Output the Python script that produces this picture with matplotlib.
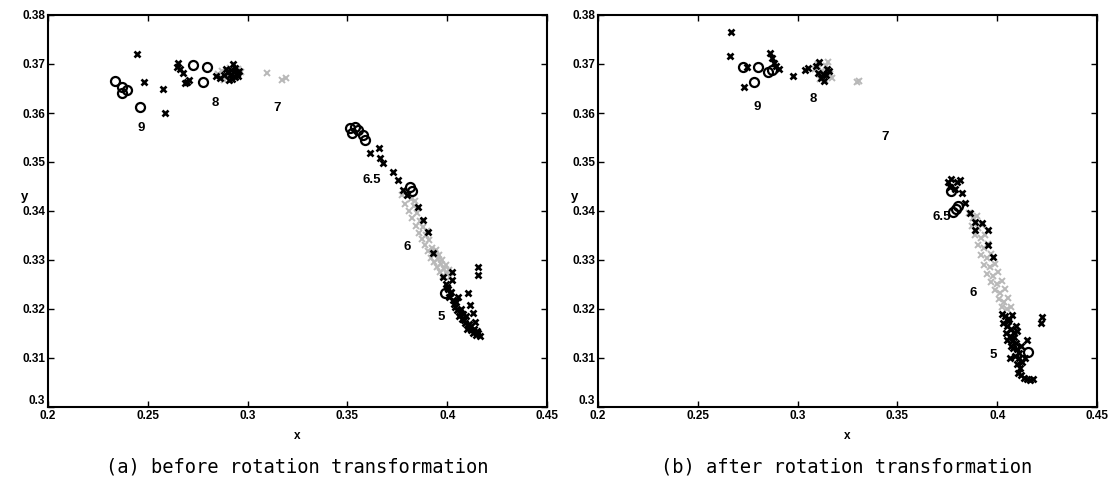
#!/usr/bin/env python3
"""Chromaticity scatter before / after rotation transformation."""

import matplotlib

matplotlib.use("Agg")
import matplotlib.pyplot as plt

# ---- panel (a): before rotation ----
a_circle_x = [0.2336, 0.2370, 0.2396, 0.2370, 0.2460, 0.2726, 0.2797, 0.2777,
              0.3513, 0.3538, 0.3553, 0.3578, 0.3588, 0.3525,
              0.3814, 0.3822, 0.3989]
a_circle_y = [0.3665, 0.3653, 0.3647, 0.3641, 0.3612, 0.3698, 0.3694, 0.3663,
              0.3569, 0.3571, 0.3565, 0.3555, 0.3545, 0.3560,
              0.3449, 0.3440, 0.3233]

a_cross_x = [0.2446, 0.2480, 0.2577, 0.2586, 0.2646, 0.2651, 0.2676, 0.2686, 0.2696,
             0.2705, 0.2660,
             0.2860, 0.2880, 0.2900, 0.2915, 0.2930, 0.2920, 0.2935, 0.2945, 0.2905,
             0.2925, 0.2955, 0.2890, 0.2938, 0.2912, 0.2950, 0.2840,
             0.3613, 0.3658, 0.3663, 0.3678, 0.3728, 0.3753, 0.3779, 0.3799, 0.3854,
             0.3879, 0.3904, 0.3929, 0.4024,
             0.3979, 0.3994, 0.4005, 0.4015, 0.4029, 0.4010, 0.4040, 0.4050, 0.4063,
             0.4035, 0.4075, 0.4090, 0.4114, 0.4100, 0.4130, 0.4145, 0.4164, 0.4155,
             0.4060, 0.4085, 0.4120, 0.4000, 0.4020, 0.4045, 0.4070, 0.4095, 0.4110,
             0.4135, 0.4150, 0.4025, 0.4055, 0.4080, 0.4105,
             0.4154, 0.4154, 0.4104, 0.4114, 0.4129, 0.4139]
a_cross_y = [0.3720, 0.3663, 0.3649, 0.3600, 0.3694, 0.3702, 0.3682, 0.3661, 0.3663,
             0.3668, 0.3690,
             0.3672, 0.3678, 0.3683, 0.3688, 0.3683, 0.3670, 0.3692, 0.3680, 0.3668,
             0.3700, 0.3686, 0.3690, 0.3674, 0.3678, 0.3676, 0.3676,
             0.3518, 0.3529, 0.3508, 0.3498, 0.3480, 0.3463, 0.3443, 0.3433, 0.3408,
             0.3382, 0.3357, 0.3314, 0.3276,
             0.3265, 0.3252, 0.3240, 0.3232, 0.3218, 0.3225, 0.3205, 0.3198, 0.3191,
             0.3210, 0.3180, 0.3172, 0.3164, 0.3160, 0.3152, 0.3146, 0.3144, 0.3150,
             0.3185, 0.3178, 0.3158, 0.3245, 0.3235, 0.3215, 0.3200, 0.3185, 0.3170,
             0.3160, 0.3155, 0.3260, 0.3225, 0.3190, 0.3168,
             0.3286, 0.3269, 0.3233, 0.3208, 0.3192, 0.3173]

a_gray_x = [0.2850, 0.2870, 0.2890, 0.2910, 0.2930, 0.2950, 0.2965, 0.2880,
            0.3097, 0.3172, 0.3192,
            0.3775, 0.3800, 0.3820, 0.3790, 0.3835, 0.3810, 0.3850, 0.3825, 0.3865,
            0.3845, 0.3880, 0.3860, 0.3895, 0.3875, 0.3910, 0.3890, 0.3925, 0.3905,
            0.3940, 0.3920, 0.3955, 0.3935, 0.3970, 0.3950, 0.3985, 0.3965, 0.4000,
            0.3980, 0.4015, 0.3960, 0.3900, 0.3840, 0.3995, 0.4010, 0.3975, 0.3945]
a_gray_y = [0.3680, 0.3685, 0.3676, 0.3692, 0.3675, 0.3690, 0.3683, 0.3668,
            0.3682, 0.3667, 0.3671,
            0.3432, 0.3440, 0.3425, 0.3415, 0.3410, 0.3400, 0.3395, 0.3385, 0.3380,
            0.3370, 0.3368, 0.3355, 0.3352, 0.3342, 0.3340, 0.3330, 0.3325, 0.3318,
            0.3315, 0.3305, 0.3302, 0.3295, 0.3292, 0.3285, 0.3282, 0.3275, 0.3272,
            0.3268, 0.3265, 0.3310, 0.3360, 0.3420, 0.3290, 0.3280, 0.3300, 0.3320]

a_labels = ["9", "8", "7", "6.5", "6", "5"]
a_label_x = [0.2466, 0.2837, 0.3147, 0.3623, 0.3799, 0.3969]
a_label_y = [0.3569, 0.3620, 0.3610, 0.3463, 0.3327, 0.3184]

# ---- panel (b): after rotation ----
b_circle_x = [0.2727, 0.2802, 0.2782, 0.2852, 0.2872,
              0.3770, 0.3779, 0.3792, 0.3804, 0.4154]
b_circle_y = [0.3694, 0.3694, 0.3663, 0.3684, 0.3688,
              0.3440, 0.3398, 0.3404, 0.3410, 0.3112]

b_cross_x = [0.2666, 0.2661, 0.2732, 0.2745, 0.2862, 0.2872, 0.2880, 0.2890, 0.2905,
             0.2977, 0.3037, 0.3052, 0.3090, 0.3105, 0.3125, 0.3145, 0.3130,
             0.3115, 0.3140, 0.3155, 0.3100,
             0.3754, 0.3770, 0.3799, 0.3814, 0.3764, 0.3790, 0.3824, 0.3839, 0.3864,
             0.3889, 0.3924, 0.3889, 0.3954, 0.3954, 0.3979,
             0.4024, 0.4040, 0.4060, 0.4074, 0.4030, 0.4050, 0.4070, 0.4045, 0.4064,
             0.4085, 0.4100, 0.4049, 0.4075, 0.4095, 0.4149, 0.4080, 0.4100, 0.4120,
             0.4064, 0.4090, 0.4110, 0.4139, 0.4100, 0.4115, 0.4105, 0.4120, 0.4135,
             0.4150, 0.4165, 0.4178, 0.4055, 0.4085, 0.4110, 0.4125, 0.4095, 0.4070,
             0.4224, 0.4219]
b_cross_y = [0.3765, 0.3716, 0.3653, 0.3694, 0.3722, 0.3712, 0.3703, 0.3695, 0.3690,
             0.3676, 0.3688, 0.3692, 0.3695, 0.3705, 0.3680, 0.3690, 0.3665,
             0.3672, 0.3678, 0.3685, 0.3682,
             0.3459, 0.3465, 0.3459, 0.3463, 0.3449, 0.3445, 0.3437, 0.3416, 0.3396,
             0.3378, 0.3375, 0.3361, 0.3361, 0.3331, 0.3306,
             0.3190, 0.3185, 0.3180, 0.3188, 0.3172, 0.3165, 0.3160, 0.3150, 0.3145,
             0.3150, 0.3155, 0.3137, 0.3135, 0.3130, 0.3137, 0.3120, 0.3118, 0.3125,
             0.3100, 0.3105, 0.3100, 0.3100, 0.3088, 0.3080, 0.3070, 0.3065, 0.3060,
             0.3058, 0.3055, 0.3058, 0.3175, 0.3142, 0.3110, 0.3092, 0.3165, 0.3125,
             0.3184, 0.3171]

b_gray_x = [0.3085, 0.3100, 0.3120, 0.3140, 0.3160, 0.3110, 0.3135, 0.3150, 0.3170,
            0.3298, 0.3308,
            0.3860, 0.3880, 0.3900, 0.3875, 0.3905, 0.3925, 0.3890, 0.3920, 0.3940,
            0.3905, 0.3935, 0.3955, 0.3920, 0.3950, 0.3970, 0.3935, 0.3965, 0.3990,
            0.3950, 0.3980, 0.4005, 0.3970, 0.4000, 0.4025, 0.3990, 0.4015, 0.4040,
            0.4010, 0.4035, 0.4055, 0.4025, 0.4050, 0.4070]
b_gray_y = [0.3690, 0.3700, 0.3685, 0.3695, 0.3680, 0.3670, 0.3668, 0.3705, 0.3672,
            0.3663, 0.3665,
            0.3395, 0.3385, 0.3390, 0.3370, 0.3365, 0.3372, 0.3350, 0.3345, 0.3352,
            0.3330, 0.3325, 0.3332, 0.3310, 0.3305, 0.3312, 0.3290, 0.3285, 0.3292,
            0.3272, 0.3268, 0.3275, 0.3255, 0.3250, 0.3258, 0.3238, 0.3232, 0.3240,
            0.3220, 0.3215, 0.3222, 0.3205, 0.3200, 0.3205]

b_labels = ["9", "8", "7", "6.5", "6", "5"]
b_label_x = [0.2797, 0.3077, 0.3438, 0.3724, 0.3879, 0.3979]
b_label_y = [0.3612, 0.3628, 0.3551, 0.3388, 0.3233, 0.3106]

x_ticks = [0.2, 0.25, 0.3, 0.35, 0.4, 0.45]
x_tick_labels = ["0.2", "0.25", "0.3", "0.35", "0.4", "0.45"]
y_ticks = [0.3, 0.31, 0.32, 0.33, 0.34, 0.35, 0.36, 0.37, 0.38]
y_tick_labels = ["0.3", "0.31", "0.32", "0.33", "0.34", "0.35", "0.36", "0.37", "0.38"]

captions = ["(a) before rotation transformation", "(b) after rotation transformation"]


def draw_panel(ax, cx, cy, kx, ky, gx, gy, labels, lx, ly):
    ax.plot(gx, gy, ls="none", marker="x", ms=4.5, mew=1.4, color="#b8b8b8")
    ax.plot(kx, ky, ls="none", marker="x", ms=4.2, mew=1.9, color="black")
    ax.plot(cx, cy, ls="none", marker="o", ms=6.5, mew=1.6, mfc="none", mec="black")
    for t, x, y in zip(labels, lx, ly):
        ax.text(x, y, t, fontsize=9.5, fontweight="bold", ha="center", va="center",
                family="Liberation Sans")

    ax.set_xlim(0.2, 0.45)
    ax.set_ylim(0.3, 0.38)
    ax.set_xticks(x_ticks)
    ax.set_xticklabels(x_tick_labels)
    ax.set_yticks(y_ticks)
    ax.set_yticklabels(y_tick_labels)
    ax.tick_params(direction="in", length=4, width=1, top=True, right=True,
                   labelsize=8.5, pad=2)
    for lab in ax.get_xticklabels() + ax.get_yticklabels():
        lab.set_fontweight("bold")
        lab.set_family("Liberation Sans")
    # the corner "0.3" sits a little above the axis, as in the original
    ax.get_yticklabels()[0].set_va("bottom")
    for sp in ax.spines.values():
        sp.set_linewidth(1.5)
    ax.set_xlabel("x", fontsize=8.5, fontweight="bold", family="Liberation Sans", labelpad=6)
    ax.text(-0.047, 0.535, "y", transform=ax.transAxes, fontsize=9.5, fontweight="bold",
            family="Liberation Sans", ha="center", va="center")


def main() -> None:
    fig = plt.figure(figsize=(11.11, 4.93), dpi=100)
    ax_a = fig.add_axes([48 / 1111, 1 - 407 / 493, 499 / 1111, 392 / 493])
    ax_b = fig.add_axes([598 / 1111, 1 - 407 / 493, 499 / 1111, 392 / 493])

    draw_panel(ax_a, a_circle_x, a_circle_y, a_cross_x, a_cross_y, a_gray_x, a_gray_y,
               a_labels, a_label_x, a_label_y)
    draw_panel(ax_b, b_circle_x, b_circle_y, b_cross_x, b_cross_y, b_gray_x, b_gray_y,
               b_labels, b_label_x, b_label_y)

    fig.text(297 / 1111, 1 - 467 / 493, captions[0], ha="center", va="center",
             fontsize=13.5, family="DejaVu Sans Mono")
    fig.text(847 / 1111, 1 - 467 / 493, captions[1], ha="center", va="center",
             fontsize=13.5, family="DejaVu Sans Mono")

    fig.savefig("out.png", dpi=100)
    plt.close(fig)


if __name__ == "__main__":
    main()
